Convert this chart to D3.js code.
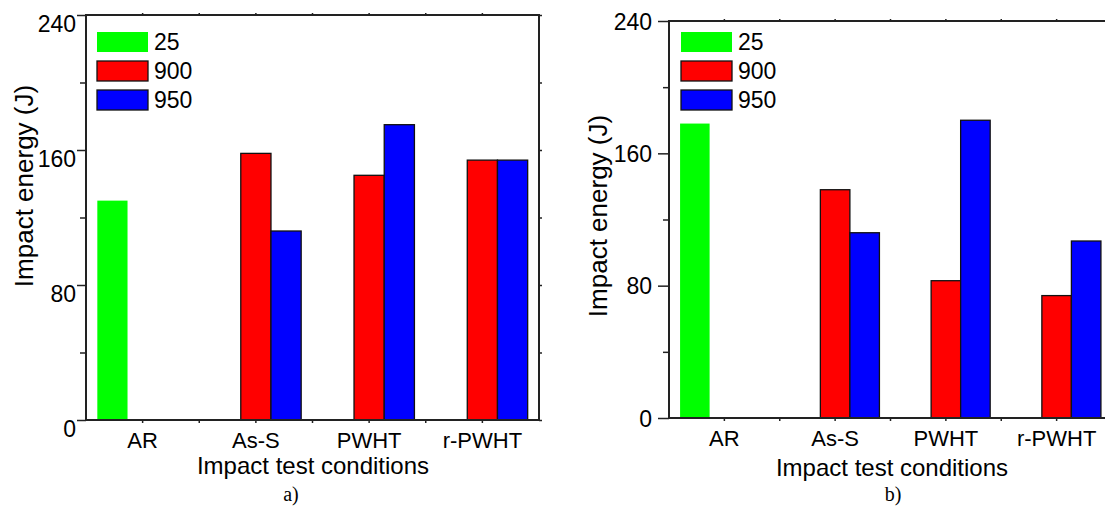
<!DOCTYPE html>
<html>
<head>
<meta charset="utf-8">
<script src="https://cdn.jsdelivr.net/npm/d3@7"></script>
<style>
  body { margin: 0; background: #fff; }
  text { font-family: "Liberation Sans", Arial, sans-serif; fill: #000; }
</style>
</head>
<body>
<div id="root"></div>
<script>
// data
var categories = ["AR", "As-S", "PWHT", "r-PWHT"];
var series = ["25", "900", "950"];
var colors = ["#00ff00", "#ff0000", "#0000ff"];
var yTicks = [0, 80, 160, 240];
var yMinor = [40, 120, 200];

// panel a)
var a25 = [130, null, null, null];
var a900 = [null, 158, 145, 154];
var a950 = [null, 112, 175, 154];
// panel b)
var b25 = [178, null, null, null];
var b900 = [null, 138, 83, 74];
var b950 = [null, 112, 180, 107];

var svg = d3.select("#root").append("svg").attr("width", 1105).attr("height", 511);
svg.append("rect").attr("width", "100%").attr("height", "100%").attr("fill", "white");

function panel(cfg) {
  var g = svg.append("g");
  var x0 = d3.scaleBand().domain(categories).range([cfg.left, cfg.right]).paddingInner(0.2).paddingOuter(0.1);
  var x1 = d3.scaleBand().domain(series).range([0, x0.bandwidth()]);
  var y = d3.scaleLinear().domain([0, 240]).range([cfg.bottom, cfg.top]);

  // bars (empty cells are skipped)
  var rows = [];
  categories.forEach(function(c, i) {
    cfg.values.forEach(function(vals, s) {
      if (vals[i] != null) rows.push({cat: c, s: s, v: vals[i]});
    });
  });
  g.selectAll(".bar").data(rows).enter().append("rect")
    .attr("x", function(d) { return x0(d.cat) + x1(series[d.s]); })
    .attr("y", function(d) { return y(d.v); })
    .attr("width", x1.bandwidth())
    .attr("height", function(d) { return y(0) - y(d.v); })
    .attr("fill", function(d) { return colors[d.s]; })
    .attr("stroke", function(d) { return d.s == 0 ? "none" : "#111"; })
    .attr("stroke-width", 1.3);

  // y axis
  var yAxis = d3.axisLeft(y).tickValues(yTicks).tickSize(cfg.tickLen).tickPadding(cfg.tickPad);
  var ya = g.append("g").attr("transform", "translate(" + cfg.left + ",0)").call(yAxis);
  ya.selectAll("text").attr("dy", cfg.labelDy).style("font-size", "23px");
  g.append("g").attr("transform", "translate(" + cfg.left + ",0)")
    .call(d3.axisLeft(y).tickValues(yMinor).tickSize(6).tickFormat(""));
  g.append("g").attr("transform", "translate(" + cfg.right + ",0)")
    .call(d3.axisRight(y).tickValues(yTicks.concat(yMinor)).tickSize(3).tickFormat(""));

  // x axis
  var xAxis = d3.axisBottom(x0).tickSize(3).tickPadding(9);
  var xa = g.append("g").attr("transform", "translate(0," + cfg.bottom + ")").call(xAxis);
  xa.selectAll("text").style("font-size", "22px");
  var step = x0.step();
  var mids = categories.slice(1).map(function(c) { return x0(c) + x0.bandwidth() / 2 - step / 2; });
  var centers = categories.map(function(c) { return x0(c) + x0.bandwidth() / 2; });
  g.selectAll(".xminor").data(mids).enter().append("line")
    .attr("x1", function(d) { return d; }).attr("x2", function(d) { return d; })
    .attr("y1", cfg.bottom).attr("y2", cfg.bottom + 3).attr("stroke", "#222").attr("stroke-width", 1.5);
  g.selectAll(".xtop").data(centers.concat(mids)).enter().append("line")
    .attr("x1", function(d) { return d; }).attr("x2", function(d) { return d; })
    .attr("y1", cfg.top).attr("y2", cfg.top - 2).attr("stroke", "#222").attr("stroke-width", 1.5);

  g.selectAll(".domain").remove();
  g.selectAll(".tick line").attr("stroke", "#222").attr("stroke-width", 1.5);

  // frame
  g.append("rect").attr("x", cfg.left).attr("y", cfg.top)
    .attr("width", cfg.right - cfg.left).attr("height", cfg.bottom - cfg.top)
    .attr("fill", "none").attr("stroke", "#222").attr("stroke-width", 2);

  // legend
  var lg = g.selectAll(".legend").data(series).enter().append("g")
    .attr("transform", function(d, i) { return "translate(" + cfg.legX + "," + (cfg.legY + i * 29) + ")"; });
  lg.append("rect").attr("width", 51).attr("height", 20)
    .attr("fill", function(d, i) { return colors[i]; })
    .attr("stroke", function(d, i) { return i == 0 ? "none" : "#111"; })
    .attr("stroke-width", 1.3);
  lg.append("text").attr("x", 57).attr("y", 18).style("font-size", "23px").text(function(d) { return d; });

  // titles
  g.append("text").attr("transform", "translate(" + cfg.yTitleX + "," + cfg.yTitleY + ") rotate(-90)")
    .attr("text-anchor", "middle").style("font-size", "26px").text("Impact energy (J)");
  g.append("text").attr("x", cfg.xTitleX).attr("y", cfg.xTitleY)
    .attr("text-anchor", "middle").style("font-size", "24px").text("Impact test conditions");
  g.append("text").attr("x", cfg.tagX).attr("y", 501).attr("text-anchor", "middle")
    .style("font-family", "'Liberation Serif', 'Times New Roman', serif").style("font-size", "20px")
    .text(cfg.tag);
}

panel({
  left: 86, right: 539, top: 15, bottom: 420,
  values: [a25, a900, a950],
  tickLen: 9, tickPad: 1, labelDy: "0.7em",
  legX: 97, legY: 32,
  yTitleX: 33, yTitleY: 186,
  xTitleX: 313, xTitleY: 474,
  tagX: 291, tag: "a)"
});

panel({
  left: 669, right: 1112, top: 21, bottom: 418,
  values: [b25, b900, b950],
  tickLen: 11, tickPad: 6, labelDy: "0.35em",
  legX: 681, legY: 32,
  yTitleX: 607, yTitleY: 216,
  xTitleX: 892, xTitleY: 476,
  tagX: 893, tag: "b)"
});
</script>
</body>
</html>
